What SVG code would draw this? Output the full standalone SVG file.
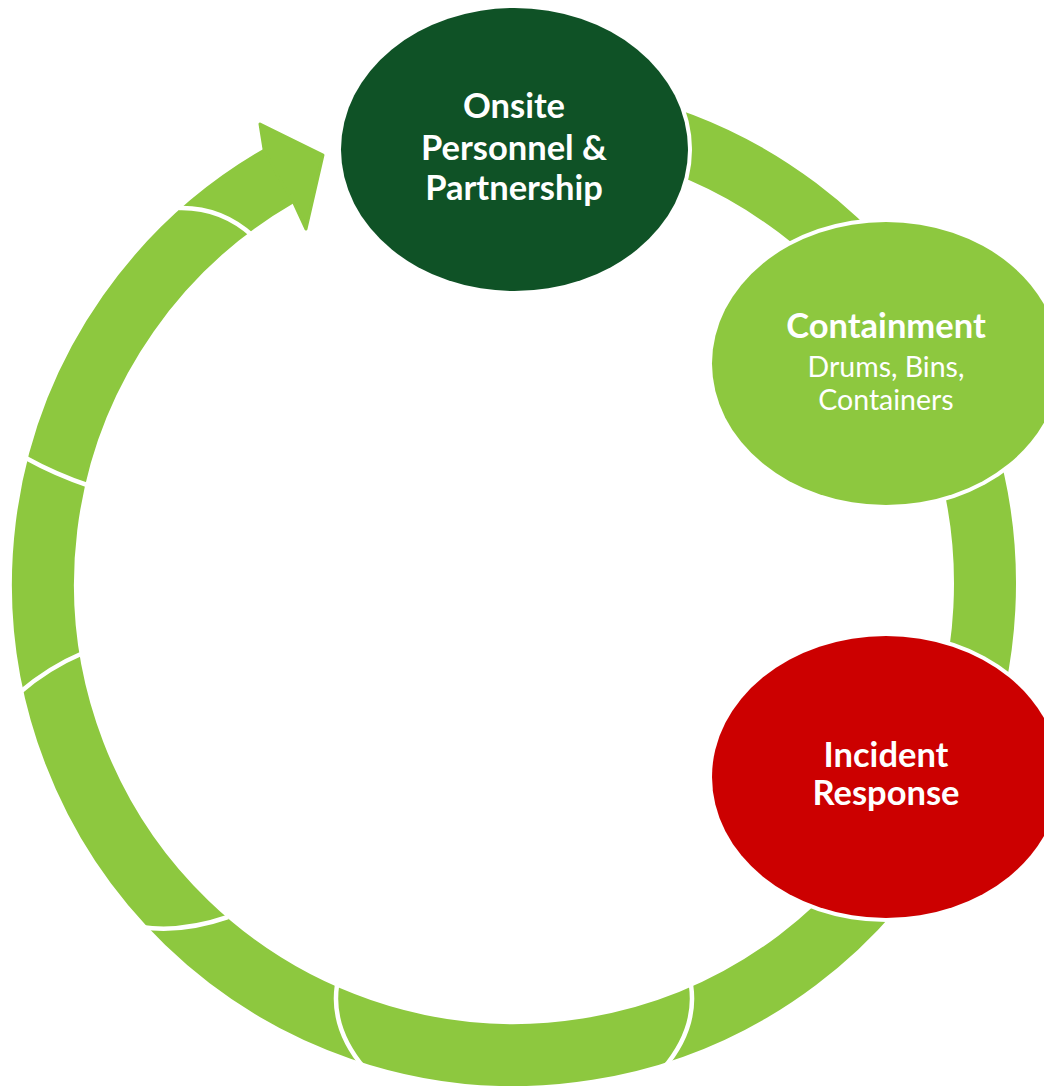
<svg xmlns="http://www.w3.org/2000/svg" width="1044" height="1086" viewBox="0 0 1044 1086">
  <style>
    .ring { fill: none; stroke: #8DC83F; stroke-width: 62; }
    .arrowhead { fill: #8DC83F; stroke: #8DC83F; stroke-width: 3; stroke-linejoin: round; }
    .sep { fill: none; stroke: #FFFFFF; stroke-width: 4.5; }
    .halo { fill: #FFFFFF; }
    .title { font-family: Lato, "Open Sans", "Liberation Sans", sans-serif; font-weight: bold; font-size: 34.5px; fill: #FFFFFF; text-anchor: middle; }
    .sub { font-family: Lato, "Open Sans", "Liberation Sans", sans-serif; font-weight: normal; font-size: 28.5px; fill: #FFFFFF; text-anchor: middle; }
  </style>
  <rect x="0" y="0" width="1044" height="1086" fill="#FFFFFF"/>
  <g id="connectors">
    <path class="ring" d="M 278.5 176.1 A 471 471 0 1 0 611.9 123.3"/>
    <polygon class="arrowhead" points="264,149 260,124 323,155 306,229 294,203 278,176"/>
    <path class="sep" d="M 179 208 Q 221 207 253 236"/>
    <path class="sep" d="M 24 457 Q 56.5 475 90 486"/>
    <path class="sep" d="M 83 653 Q 48.6 667.5 19 693"/>
    <path class="sep" d="M 141 927 Q 181.6 933 228 917"/>
    <path class="sep" d="M 337 985 Q 330.5 1028.5 365 1069"/>
    <path class="sep" d="M 691 985 Q 697.5 1028.5 663 1069"/>
  </g>
  <g id="node-onsite">
    <ellipse class="halo" cx="514.5" cy="149.5" rx="177.5" ry="145.5"/>
    <ellipse cx="514.5" cy="149.5" rx="173.5" ry="141.5" fill="#0F5226"/>
    <text class="title" x="514" y="118">Onsite</text>
    <text class="title" x="514" y="160">Personnel &amp;</text>
    <text class="title" x="514" y="200">Partnership</text>
  </g>
  <g id="node-containment">
    <ellipse class="halo" cx="886" cy="363.5" rx="178" ry="145.5"/>
    <ellipse cx="886" cy="363.5" rx="174" ry="141.5" fill="#8DC83F"/>
    <text class="title" x="886" y="338">Containment</text>
    <text class="sub" x="886" y="377">Drums, Bins,</text>
    <text class="sub" x="886" y="410">Containers</text>
  </g>
  <g id="node-incident">
    <ellipse class="halo" cx="886" cy="777" rx="178" ry="145"/>
    <ellipse cx="886" cy="777" rx="174" ry="141" fill="#CC0000"/>
    <text class="title" x="886" y="767">Incident</text>
    <text class="title" x="886" y="805">Response</text>
  </g>
</svg>
